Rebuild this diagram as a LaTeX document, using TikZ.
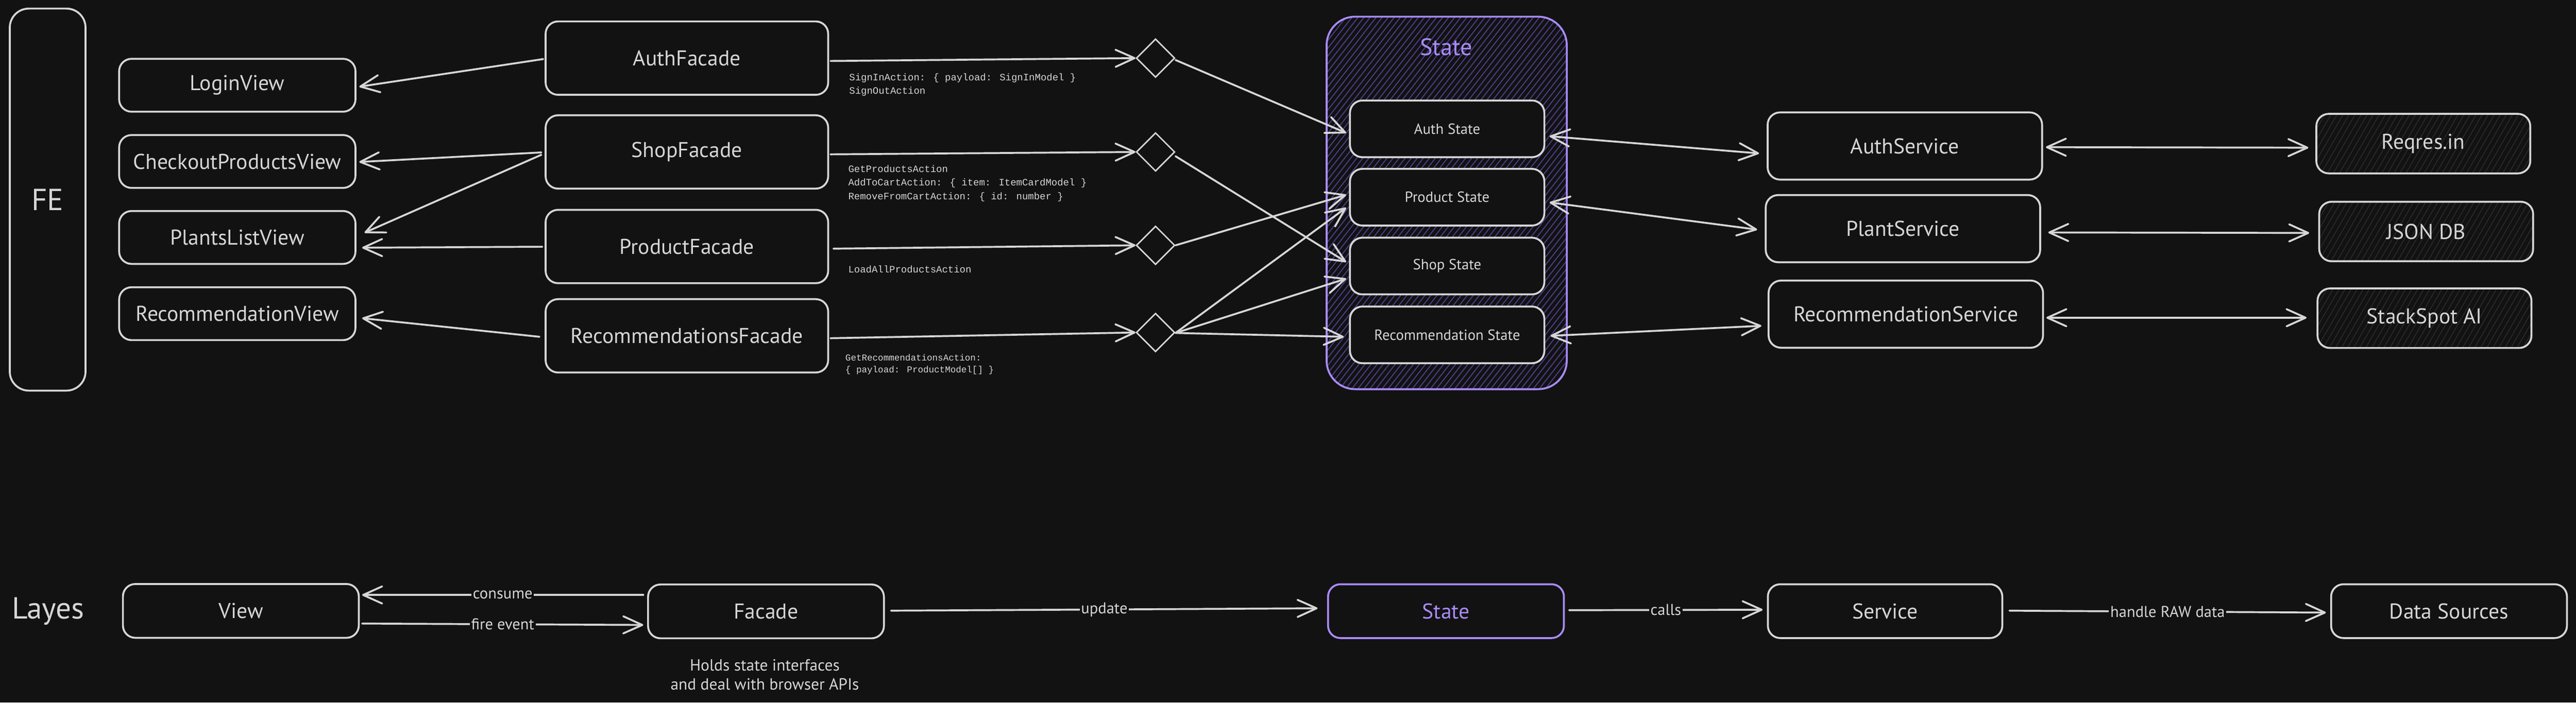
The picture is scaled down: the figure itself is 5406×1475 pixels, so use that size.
\documentclass[tikz,border=0pt]{standalone}
\usepackage{fontspec}
\setmainfont{PT Sans}
\newfontfamily\handfont{PT Sans}
\newfontfamily\codefont{Liberation Mono}
\usetikzlibrary{arrows.meta,shapes.geometric,patterns.meta,calc}
\definecolor{bg}{HTML}{121212}
\definecolor{fg}{HTML}{D6D6D6}
\definecolor{vio}{HTML}{A98BFA}
\definecolor{viohatch}{HTML}{4E3F8C}
\definecolor{grayhatch}{HTML}{2E2E2E}
\tikzset{
  box/.style={draw=fg, line width=4pt, rounded corners=26pt, fill=bg, text=fg, inner sep=0pt,
    font=\handfont\fontsize{45}{52}\selectfont},
  vbox/.style={box, minimum width=496pt, minimum height=111pt},
  fbox/.style={box, minimum width=593pt, minimum height=154pt},
  sbox/.style={box, minimum width=408pt, minimum height=119pt, font=\handfont\fontsize{31}{36}\selectfont},
  svbox/.style={box, minimum width=576pt, minimum height=141pt},
  dbox/.style={draw=fg, line width=4pt, rounded corners=26pt, text=fg, inner sep=0pt,
    font=\handfont\fontsize{45}{52}\selectfont, minimum width=449pt, minimum height=125pt,
    preaction={fill=bg},
    pattern={Lines[angle=60,distance=11pt,line width=1.5pt]}, pattern color=grayhatch},
  lbox/.style={box, minimum width=495pt, minimum height=113pt},
  dia/.style={diamond, draw=fg, line width=3pt, aspect=1, minimum width=81pt, minimum height=81pt, inner sep=0pt},
  tipa/.tip={Straight Barb[length=40pt,width=36pt,round]},
  arr/.style={draw=fg, line width=4pt, line cap=round, -tipa},
  darr/.style={draw=fg, line width=4pt, line cap=round, tipa-tipa},
  code/.style={text=fg, inner sep=0pt, align=left, anchor=west, font=\codefont\fontsize{20.5}{29}\selectfont},
  lab/.style={midway, fill=bg, inner sep=3pt, text=fg, font=\handfont\fontsize{33}{38}\selectfont},
}
\begin{document}
\begin{tikzpicture}[x=1pt,y=-1pt]
\useasboundingbox (0,0) rectangle (5406,1475);
\fill[bg] (0,0) rectangle (5406,1475);

% FE column
\node[box, rounded corners=40pt, minimum width=159pt, minimum height=802pt,
  font=\handfont\fontsize{64}{70}\selectfont] (fe) at (100,419) {FE};

% views
\node[vbox] (loginv) at (498,179) {LoginView};
\node[vbox] (checkv) at (498,339) {CheckoutProductsView};
\node[vbox] (plantsv) at (498,498.5) {PlantsListView};
\node[vbox] (recv) at (498,658.5) {RecommendationView};

% facades
\node[fbox] (authf) at (1441.5,122) {AuthFacade};
\node[fbox] (shopf) at (1441.5,319) {ShopFacade};
\node[fbox] (prodf) at (1441.5,517.5) {ProductFacade};
\node[fbox] (recf) at (1441.5,705) {RecommendationsFacade};

% diamonds
\node[dia] (d1) at (2425,122) {};
\node[dia] (d2) at (2425,319) {};
\node[dia] (d3) at (2425,515) {};
\node[dia] (d4) at (2425,698) {};

% state container
\node[draw=vio, line width=4pt, rounded corners=60pt, minimum width=504pt, minimum height=782pt,
  pattern={Lines[angle=52,distance=10pt,line width=2pt]}, pattern color=viohatch] (statec) at (3036,426) {};
\node[text=vio, font=\handfont\fontsize{50}{56}\selectfont] (sttitle) at (3035,99) {State};
\node[sbox] (authst) at (3037,270.5) {Auth State};
\node[sbox] (prodst) at (3037,414) {Product State};
\node[sbox] (shopst) at (3037,558.5) {Shop State};
\node[sbox] (recst) at (3037,703) {Recommendation State};

% services
\node[svbox] (authsv) at (3997.5,306.5) {AuthService};
\node[svbox] (plantsvc) at (3993.5,480) {PlantService};
\node[svbox] (recsv) at (3999.5,659.5) {RecommendationService};

% data sources
\node[dbox] (reqres) at (5085.5,301.5) {Reqres.in};
\node[dbox] (jsondb) at (5091.5,486) {JSON DB};
\node[dbox] (stackspot) at (5088,668) {StackSpot AI};

% action labels
\node[code] (lsign) at (1782,178) {SignInAction: \{ payload: SignInModel \}\\SignOutAction};
\node[code] (lprod) at (1780,385) {GetProductsAction\\AddToCartAction: \{ item: ItemCardModel \}\\RemoveFromCartAction: \{ id: number \}};
\node[code] (lload) at (1780,565) {LoadAllProductsAction};
\node[code, font=\codefont\fontsize{19}{25}\selectfont] (lrec) at (1774,765) {GetRecommendationsAction:\\\{ payload: ProductModel[] \}};

% facade -> views
\draw[arr] ($(authf.west)+(-3,2)$) -- ($(loginv.east)+(6,3)$);
\draw[arr] ($(shopf.west)+(-7,1)$) -- ($(checkv.east)+(6,1)$);
\draw[arr] ($(shopf.west)+(-7,6)$) -- ($(plantsv.east)+(17,-10)$);
\draw[arr] ($(prodf.west)+(-5,0.5)$) -- ($(plantsv.east)+(12,21.5)$);
\draw[arr] ($(recf.west)+(-11,2)$) -- ($(recv.east)+(12,9.5)$);

% facade -> diamonds
\draw[arr] ($(authf.east)+(3,6)$) -- (d1.west);
\draw[arr] ($(shopf.east)+(3,5)$) -- (d2.west);
\draw[arr] ($(prodf.east)+(9,4.5)$) -- (d3.west);
\draw[arr] ($(recf.east)+(3,5)$) -- (d4.west);

% diamonds -> states
\draw[arr] ($(d1.east)+(0,4)$) -- ($(authst.west)+(-6,8.5)$);
\draw[arr] ($(d2.east)+(0,9)$) -- ($(shopst.west)+(-6,-8.5)$);
\draw[arr] (d3.east) -- ($(prodst.west)+(-6,-5)$);
\draw[arr] ($(d4.east)+(0,1)$) -- ($(prodst.west)+(-6,22)$);
\draw[arr] ($(d4.east)+(0,1)$) -- ($(shopst.west)+(-6,26.5)$);
\draw[arr] ($(d4.east)+(0,1)$) -- ($(recst.west)+(-11,4)$);

% states <-> services
\draw[darr] ($(authst.east)+(9,15.5)$) -- ($(authsv.west)+(-16,15.5)$);
\draw[darr] ($(prodst.east)+(9,11)$) -- ($(plantsvc.west)+(-16,2)$);
\draw[darr] ($(recst.east)+(11,2)$) -- ($(recsv.west)+(-13,24.5)$);

% services <-> data sources
\draw[darr] ($(authsv.east)+(6,2.5)$) -- ($(reqres.west)+(-16,8.5)$);
\draw[darr] ($(plantsvc.east)+(15,8)$) -- ($(jsondb.west)+(-19,3)$);
\draw[darr] ($(recsv.east)+(5,7.5)$) -- ($(stackspot.west)+(-21,-1)$);

% legend row
\node[text=fg, font=\handfont\fontsize{64}{70}\selectfont] (layes) at (101,1283) {Layes};
\node[lbox] (lview) at (505.5,1282.5) {View};
\node[lbox] (lfacade) at (1607.5,1283.5) {Facade};
\node[lbox, draw=vio, text=vio] (lstate) at (3034.5,1283) {State};
\node[lbox, minimum width=492pt] (lservice) at (3956,1283) {Service};
\node[lbox] (ldata) at (5139.5,1283) {Data Sources};
\node[text=fg, align=center, font=\handfont\fontsize{34}{40}\selectfont] (lnote) at (1605,1416)
  {Holds state interfaces\\and deal with browser APIs};

\draw[arr] ($(lfacade.west)+(-8,-34.5)$) -- node[lab] {consume} ($(lview.east)+(5,-33.5)$);
\draw[arr] ($(lview.east)+(5,26.5)$) -- node[lab] {fire event} ($(lfacade.west)+(-8,28.5)$);
\draw[arr] ($(lfacade.east)+(13,-1.5)$) -- node[lab] {update} ($(lstate.west)+(-20,-6)$);
\draw[arr] ($(lstate.east)+(9,-2)$) -- node[lab] {calls} ($(lservice.west)+(-9,-3)$);
\draw[arr] ($(lservice.east)+(13,-1)$) -- node[lab] {handle RAW data} ($(ldata.west)+(-9,3)$);
\end{tikzpicture}
\end{document}
